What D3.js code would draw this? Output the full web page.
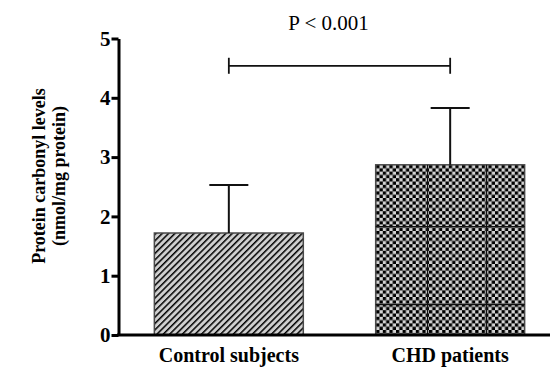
<!DOCTYPE html>
<html>
  <head>
    <meta charset="utf-8">
    <style type="text/css">
      body { margin: 0; background: #fff; }
      svg { display: block; }
    </style>
  </head>
  <body>
    <script src="https://cdnjs.cloudflare.com/ajax/libs/d3/7.8.5/d3.min.js"></script>
    <script type="text/javascript">
      // values
      const groups = ["Control subjects", "CHD patients"];
      const means = [1.72, 2.87];
      const sdUpper = [2.53, 3.83];
      const yTicks = [0, 1, 2, 3, 4, 5];
      const pLabel = "P < 0.001";
      const bracketLevel = 4.54;
      const yTitle = ["Protein carbonyl levels", "(nmol/mg protein)"];

      const chart = { width: 551, height: 367, left: 118.5, right: 550, top: 38.5, bottom: 335 };
      const serif = "'Liberation Serif', 'Times New Roman', serif";

      let svg = d3.select("body").append("svg")
        .attr("width", chart.width)
        .attr("height", chart.height);

      let defs = svg.append("defs");

      // diagonal hatch for control bar
      let hatch = defs.append("pattern")
        .attr("id", "hatch")
        .attr("patternUnits", "userSpaceOnUse")
        .attr("width", 4.5).attr("height", 4.5)
        .attr("patternTransform", "rotate(45)");
      hatch.append("rect").attr("width", 4.5).attr("height", 4.5).attr("fill", "#cfcfcf");
      hatch.append("line").attr("x1", 0).attr("y1", 0).attr("x2", 0).attr("y2", 4.5)
        .attr("stroke", "#000").attr("stroke-width", 3);

      // checkerboard for CHD bar
      let checker = defs.append("pattern")
        .attr("id", "checker")
        .attr("patternUnits", "userSpaceOnUse")
        .attr("width", 6.6).attr("height", 6.6);
      checker.append("rect").attr("width", 6.6).attr("height", 6.6).attr("fill", "#d4d4d4");
      checker.append("rect").attr("width", 3.3).attr("height", 3.3).attr("fill", "#000");
      checker.append("rect").attr("x", 3.3).attr("y", 3.3).attr("width", 3.3).attr("height", 3.3).attr("fill", "#000");

      // the faint tiling seams seen on the checker bar
      let seams = defs.append("pattern")
        .attr("id", "seams")
        .attr("patternUnits", "userSpaceOnUse")
        .attr("x", 427).attr("y", 226)
        .attr("width", 59).attr("height", 78);
      seams.append("line").attr("x1", 0.5).attr("y1", 0).attr("x2", 0.5).attr("y2", 78)
        .attr("stroke", "#111").attr("stroke-width", 1.5);
      seams.append("line").attr("x1", 0).attr("y1", 0.5).attr("x2", 59).attr("y2", 0.5)
        .attr("stroke", "#111").attr("stroke-width", 1.5);

      const x = d3.scaleBand()
        .domain(groups)
        .range([chart.left, 560.5])
        .paddingInner(0.327)
        .paddingOuter(0.162);

      const y = d3.scaleLinear()
        .domain([0, 5])
        .range([chart.bottom, chart.top]);

      const fills = ["url(#hatch)", "url(#checker)"];

      // bars
      let bars = svg.append("g").attr("id", "bars");
      bars.selectAll("rect.bar")
        .data(groups)
        .enter()
        .append("rect")
        .attr("class", "bar")
        .attr("x", d => x(d))
        .attr("y", (d, i) => y(means[i]))
        .attr("width", x.bandwidth())
        .attr("height", (d, i) => y(0) - y(means[i]))
        .attr("fill", (d, i) => fills[i])
        .attr("stroke", "#4a4a4a")
        .attr("stroke-width", 1.5);

      bars.append("rect")
        .attr("x", x(groups[1]))
        .attr("y", y(means[1]))
        .attr("width", x.bandwidth())
        .attr("height", y(0) - y(means[1]))
        .attr("fill", "url(#seams)");

      // error bars (upper only)
      let errs = svg.append("g").attr("id", "errors")
        .attr("stroke", "#111").attr("stroke-width", 2);
      groups.forEach((g, i) => {
        const cx = x(g) + x.bandwidth() / 2;
        errs.append("line")
          .attr("x1", cx).attr("x2", cx)
          .attr("y1", y(means[i])).attr("y2", y(sdUpper[i]));
        errs.append("line")
          .attr("x1", cx - 19.5).attr("x2", cx + 19.5)
          .attr("y1", y(sdUpper[i])).attr("y2", y(sdUpper[i]));
      });

      // axes
      let yAxis = svg.append("g")
        .attr("transform", `translate(${chart.left},0)`)
        .call(d3.axisLeft(y).tickValues(yTicks).tickFormat(d3.format("d")).tickSize(7).tickSizeOuter(0));
      yAxis.select(".domain").attr("stroke", "#000").attr("stroke-width", 3);
      yAxis.selectAll(".tick line").attr("stroke", "#000").attr("stroke-width", 3);
      yAxis.selectAll(".tick text")
        .attr("x", -8)
        .attr("fill", "#000")
        .style("font-family", serif)
        .style("font-weight", "bold")
        .style("font-size", "21px");

      svg.append("line")
        .attr("x1", chart.left - 1.5).attr("x2", chart.right)
        .attr("y1", chart.bottom).attr("y2", chart.bottom)
        .attr("stroke", "#000").attr("stroke-width", 3);

      // category labels
      svg.append("g").selectAll("text")
        .data(groups)
        .enter()
        .append("text")
        .attr("x", d => x(d) + x.bandwidth() / 2)
        .attr("y", 362)
        .attr("text-anchor", "middle")
        .style("font-family", serif)
        .style("font-weight", "bold")
        .style("font-size", "20px")
        .text(d => d);

      // y title
      let yt = svg.append("text")
        .attr("transform", "translate(0,176) rotate(-90)")
        .attr("text-anchor", "middle")
        .style("font-family", serif)
        .style("font-weight", "bold")
        .style("font-size", "18px");
      yt.selectAll("tspan")
        .data(yTitle)
        .enter()
        .append("tspan")
        .attr("x", 0)
        .attr("y", (d, i) => 45 + i * 20)
        .text(d => d);

      // significance bracket
      const bx1 = x(groups[0]) + x.bandwidth() / 2;
      const bx2 = x(groups[1]) + x.bandwidth() / 2;
      const by = y(bracketLevel);
      let br = svg.append("g").attr("stroke", "#111").attr("stroke-width", 1.8);
      br.append("line").attr("x1", bx1).attr("x2", bx2).attr("y1", by).attr("y2", by);
      br.append("line").attr("x1", bx1).attr("x2", bx1).attr("y1", by - 8).attr("y2", by + 8);
      br.append("line").attr("x1", bx2).attr("x2", bx2).attr("y1", by - 8).attr("y2", by + 8);

      // label sits a bit left of the bracket centre in the original
      svg.append("text")
        .attr("x", (bx1 + bx2) / 2 - 11)
        .attr("y", 30)
        .attr("text-anchor", "middle")
        .style("font-family", serif)
        .style("font-size", "21px")
        .text(pLabel);
    </script>
  </body>
</html>
